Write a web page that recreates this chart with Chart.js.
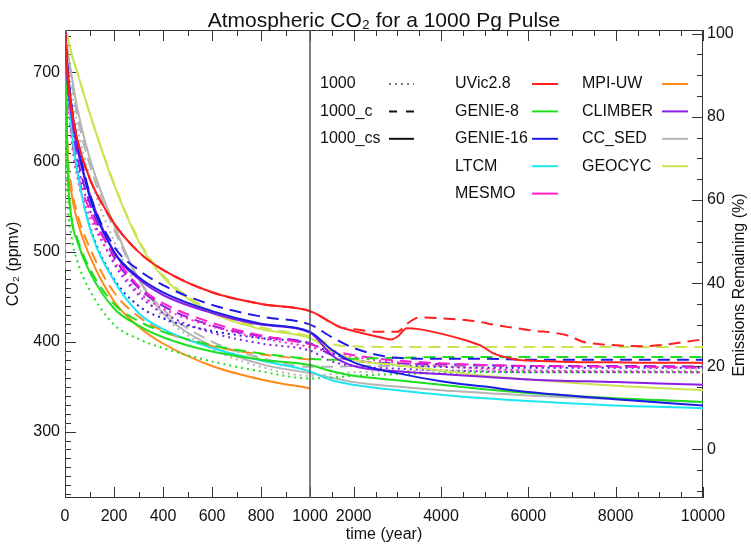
<!DOCTYPE html>
<html>
<head>
<meta charset="utf-8">
<title>Atmospheric CO2 for a 1000 Pg Pulse</title>
<script src="https://cdn.jsdelivr.net/npm/chart.js@4"></script>
<style>
html, body { margin: 0; padding: 0; background: #fff; }
#wrap { width: 751px; height: 550px; }
</style>
</head>
<body>
<div id="wrap"><canvas id="co2" width="751" height="550"></canvas></div>
<script>
// time grid shared by most runs (years)
const years = [0, 1, 10, 25, 50, 100, 200, 300, 400, 600, 800, 1000, 1500, 2000, 3000, 4000, 5000, 6000, 8000, 10000];
// UVic has bumps after 3000 so it gets a finer grid
const uvicYears = [0, 1, 10, 25, 50, 100, 200, 300, 400, 600, 800, 1000, 1700, 2000, 2600, 2850, 3000, 3220, 3500, 4000, 4600, 4900, 5200, 5500, 5750, 6000, 6900, 7250, 8000, 8600, 10000];

// CO2 (ppmv)
const uvicDash    = [750, 745, 700, 662, 625, 582, 532, 500, 480, 455, 442, 434, 416, 414, 411, 411, 411, 420, 427, 426, 424, 422, 419, 416.5, 415, 413, 407, 400, 396, 395, 402.5];
const uvicSolid   = [750, 745, 700, 662, 625, 582, 532, 500, 480, 455, 442, 434, 416, 412, 405, 402.5, 405.5, 415, 414, 409, 401, 396, 387, 382.5, 380, 379, 377.5, 377, 377, 376.5, 376.5];
const genie8Dot   = [750, 730, 570, 520, 490, 458, 419, 403, 393, 378, 367, 359, 360, 362, 364, 365, 366, 366, 366, 366];
const genie8Dash  = [750, 735, 602, 542, 515, 482, 442, 423, 411, 396, 387, 381, 380, 381, 382, 383, 383, 383, 383, 383];
const genie8Solid = [750, 735, 600, 540, 512, 478, 437, 418, 405, 389, 380, 374, 367, 362, 357, 352, 347, 343, 337, 333];
const genie16Dot   = [750, 742, 690, 640, 590, 530, 470, 440, 426, 412, 404, 398, 387, 380, 374, 372, 371, 371, 371, 371];
const genie16Dash  = [750, 745, 707, 667, 625, 566, 506, 480, 463, 441, 428, 419, 405, 393, 382, 381, 381, 380, 380, 380];
const genie16Solid = [750, 745, 706, 665, 622, 562, 500, 472, 455, 434, 420, 411, 391, 377, 365, 356, 350, 344, 336, 329];
const ltcmSolid   = [750, 748, 700, 640, 590, 528, 468, 432, 414, 393, 379, 367, 357, 352, 346, 341, 337, 334, 329, 326];
const mesmoDot    = [280, 745, 690, 630, 583, 540, 490, 455, 437, 417, 404, 394, 388, 383, 377, 373, 370, 368, 367, 366];
const mesmoDash   = [750, 745, 694, 636, 590, 547, 497, 462, 443, 421, 407, 397, 390, 385, 379, 376, 374, 373, 372, 371];
const mpiDash     = [750, 745, 620, 575, 543, 505, 455, 428, 412, 395, 386, 380, null, null, null, null, null, null, null, null];
const mpiSolid    = [480, 745, 612, 568, 535, 496, 445, 417, 398, 373, 358, 348, null, null, null, null, null, null, null, null];
const climberDot   = [750, 740, 690, 645, 600, 548, 487, 452, 432, 410, 398, 390, 378, 373, 370, 368, 367, 366, 366, 366];
const climberDash  = [750, 740, 692, 650, 606, 555, 494, 460, 440, 418, 406, 398, 385, 379, 376, 375, 374, 373, 373, 372];
const climberSolid = [750, 735, 690, 655, 615, 565, 500, 470, 452, 432, 419, 410, 385, 373, 367, 364, 361, 358, 355, 352];
const ccsedDot    = [750, 743, 715, 685, 640, 585, 512, 460, 428, 392, 372, 362, 364, 366, 367, 368, 368, 368, 368, 368];
const ccsedDash   = [750, 745, 722, 695, 652, 598, 525, 470, 436, 400, 382, 372, 372, 373, 373, 373, 373, 373, 373, 373];
const ccsedSolid  = [750, 745, 725, 700, 660, 605, 530, 470, 432, 395, 375, 365, 360, 355, 350, 346, 343, 340, 336, 333];
const geocycDash  = [750, 748, 740, 722, 700, 655, 576, 514, 474, 434, 416, 406, 397, 395, 394, 394, 394, 394, 394, 394];
const geocycSolid = [750, 748, 740, 722, 700, 655, 575, 512, 472, 432, 414, 404, 390, 380, 374, 368, 362, 358, 351, 346];

const models = ['UVic2.8', 'GENIE-8', 'GENIE-16', 'LTCM', 'MESMO', 'MPI-UW', 'CLIMBER', 'CC_SED', 'GEOCYC'];
const modelColors = ['#ff1f1f', '#1fe01f', '#1c1ce6', '#1ee6f0', '#ff1ecc', '#ff8a1a', '#8a1ee6', '#b4b4b4', '#c8e650'];
const experiments = ['1000', '1000_c', '1000_cs'];
const expDash = [[2, 4], [12, 7], []];

const yearTicks = [0, 200, 400, 600, 800, 1000, 2000, 4000, 6000, 8000, 10000];
const co2Ticks = [300, 400, 500, 600, 700];
const pctTicks = [0, 20, 40, 60, 80, 100];

const BREAK_YEAR = 1000;
const BREAK_FRAC = 245 / 638;

// x axis: 0-1000 stretched, 1000-10000 compressed
class SplitTimeScale extends Chart.LinearScale {
  static id = 'splitTime';
  static defaults = Chart.LinearScale.defaults;
  getPixelForValue(v) {
    if (v === null || v === undefined) return NaN;
    const d = v <= BREAK_YEAR
      ? BREAK_FRAC * (v - this.min) / (BREAK_YEAR - this.min)
      : BREAK_FRAC + (1 - BREAK_FRAC) * (v - BREAK_YEAR) / (this.max - BREAK_YEAR);
    return this.getPixelForDecimal(d);
  }
  getValueForPixel(p) {
    const d = this.getDecimalForPixel(p);
    return d <= BREAK_FRAC
      ? this.min + d / BREAK_FRAC * (BREAK_YEAR - this.min)
      : BREAK_YEAR + (d - BREAK_FRAC) / (1 - BREAK_FRAC) * (this.max - BREAK_YEAR);
  }
}
Chart.register(SplitTimeScale);

function series(model, exp, vals, xs = years) {
  return {
    label: models[model] + ' ' + experiments[exp],
    data: xs.map((t, i) => ({ x: t, y: vals[i] })),
    borderColor: modelColors[model],
    borderDash: expDash[exp],
    borderWidth: 2,
    pointRadius: 0,
    cubicInterpolationMode: 'monotone',
    fill: false
  };
}

// first one is drawn on top
const datasets = [
  series(0, 2, uvicSolid, uvicYears),
  series(0, 1, uvicDash, uvicYears),
  series(2, 1, genie16Dash),
  series(2, 2, genie16Solid),
  series(6, 2, climberSolid),
  series(1, 1, genie8Dash),
  series(1, 2, genie8Solid),
  series(3, 2, ltcmSolid),
  series(8, 1, geocycDash),
  series(8, 2, geocycSolid),
  series(4, 0, mesmoDot),
  series(4, 1, mesmoDash),
  series(6, 0, climberDot),
  series(6, 1, climberDash),
  series(2, 0, genie16Dot),
  series(1, 0, genie8Dot),
  series(5, 2, mpiSolid),
  series(5, 1, mpiDash),
  series(7, 2, ccsedSolid),
  series(7, 1, ccsedDash),
  series(7, 0, ccsedDot)
];

const FONT = "'Liberation Sans', Arial, Helvetica, sans-serif";
Chart.defaults.font.family = FONT;
Chart.defaults.font.size = 16;
Chart.defaults.color = '#111';

function range(a, b, step) {
  const out = [];
  for (let v = a; v <= b + 1e-9; v += step) out.push(v);
  return out;
}

const framePlugin = {
  id: 'frame',
  beforeDatasetsDraw(chart) {
    const { ctx, chartArea: a, scales } = chart;
    ctx.save();
    ctx.strokeStyle = '#333';
    ctx.lineWidth = 1;
    ctx.strokeRect(a.left + 0.5, a.top + 0.5, a.right - a.left - 1, a.bottom - a.top - 1);
    ctx.beginPath();
    const xs = range(0, 1000, 100).concat(range(1500, 10000, 500));
    xs.forEach(t => {
      const px = Math.round(scales.x.getPixelForValue(t)) + 0.5;
      const len = yearTicks.includes(t) ? 11 : 6;
      ctx.moveTo(px, a.bottom); ctx.lineTo(px, a.bottom - len);
      ctx.moveTo(px, a.top); ctx.lineTo(px, a.top + len);
    });
    range(230, 740, 10).forEach(v => {
      const py = Math.round(scales.y.getPixelForValue(v)) + 0.5;
      const len = co2Ticks.includes(v) ? 11 : 6;
      ctx.moveTo(a.left, py); ctx.lineTo(a.left + len, py);
    });
    range(-10, 100, 5).forEach(v => {
      const py = Math.round(scales.y2.getPixelForValue(v)) + 0.5;
      const len = pctTicks.includes(v) ? 11 : 6;
      ctx.moveTo(a.right, py); ctx.lineTo(a.right - len, py);
    });
    ctx.stroke();
    ctx.restore();
  },
  afterDatasetsDraw(chart) {
    const { ctx, chartArea: a, scales } = chart;
    ctx.save();
    // break line at year 1000
    const bx = scales.x.getPixelForValue(BREAK_YEAR);
    ctx.strokeStyle = '#555';
    ctx.lineWidth = 1.5;
    ctx.beginPath();
    ctx.moveTo(bx, a.top); ctx.lineTo(bx, a.bottom);
    ctx.stroke();

    // legend
    ctx.font = '16px ' + FONT;
    ctx.fillStyle = '#111';
    ctx.textBaseline = 'middle';
    ctx.textAlign = 'left';
    ctx.lineWidth = 2;
    const rowY = i => 84 + i * 27.4;
    experiments.forEach((e, i) => {
      ctx.fillText(e, 320, rowY(i));
      ctx.strokeStyle = i === 0 ? '#777' : '#111';
      ctx.setLineDash(i === 1 ? [8, 9] : expDash[i]);
      ctx.beginPath();
      ctx.moveTo(389, rowY(i)); ctx.lineTo(414, rowY(i));
      ctx.stroke();
    });
    ctx.setLineDash([]);
    models.forEach((m, i) => {
      const col = i < 5 ? 0 : 1;
      const row = i < 5 ? i : i - 5;
      const tx = col ? 582 : 455;
      const lx = col ? 662 : 532;
      ctx.fillText(m, tx, rowY(row));
      ctx.strokeStyle = modelColors[i];
      ctx.beginPath();
      ctx.moveTo(lx, rowY(row)); ctx.lineTo(lx + 26, rowY(row));
      ctx.stroke();
    });
    ctx.restore();
  },
  afterDraw(chart) {
    const { ctx } = chart;
    ctx.save();
    ctx.fillStyle = '#111';
    ctx.textAlign = 'center';
    ctx.textBaseline = 'middle';
    ctx.font = '21px ' + FONT;
    ctx.fillText('Atmospheric CO\u2082 for a 1000 Pg Pulse', 384, 21);
    ctx.font = '16px ' + FONT;
    ctx.translate(740, 285);
    ctx.rotate(-Math.PI / 2);
    ctx.fillText('Emissions Remaining (%)', 0, 0);
    ctx.restore();
  }
};

new Chart(document.getElementById('co2'), {
  type: 'line',
  data: { datasets },
  plugins: [framePlugin],
  options: {
    responsive: false,
    animation: false,
    layout: { padding: { top: 30, left: 0, right: 0, bottom: 0 } },
    plugins: { legend: { display: false }, tooltip: { enabled: false } },
    scales: {
      x: {
        type: 'splitTime',
        position: 'bottom',
        min: 0,
        max: 10000,
        afterBuildTicks: s => { s.ticks = yearTicks.map(v => ({ value: v })); },
        afterFit: s => { s.height = 52; },
        grid: { display: false, drawTicks: false },
        border: { display: false },
        ticks: { autoSkip: false, maxRotation: 0, padding: 9, callback: v => String(v) },
        title: { display: true, text: 'time (year)', padding: { top: 0, bottom: 6 } }
      },
      y: {
        type: 'linear',
        position: 'left',
        min: 226,
        max: 747,
        afterBuildTicks: s => { s.ticks = co2Ticks.map(v => ({ value: v })); },
        afterFit: s => { s.width = 65; },
        grid: { display: false, drawTicks: false },
        border: { display: false },
        ticks: { padding: 5, callback: v => String(v) },
        title: { display: true, text: 'CO\u2082 (ppmv)', padding: { top: 4, bottom: 0 } }
      },
      y2: {
        type: 'linear',
        position: 'right',
        min: (226 - 280) / 4.63,
        max: (747 - 280) / 4.63,
        afterBuildTicks: s => { s.ticks = pctTicks.map(v => ({ value: v })); },
        afterFit: s => { s.width = 48; },
        grid: { display: false, drawTicks: false },
        border: { display: false },
        ticks: { padding: 4, callback: v => String(v) }
      }
    }
  }
});
</script>
</body>
</html>
